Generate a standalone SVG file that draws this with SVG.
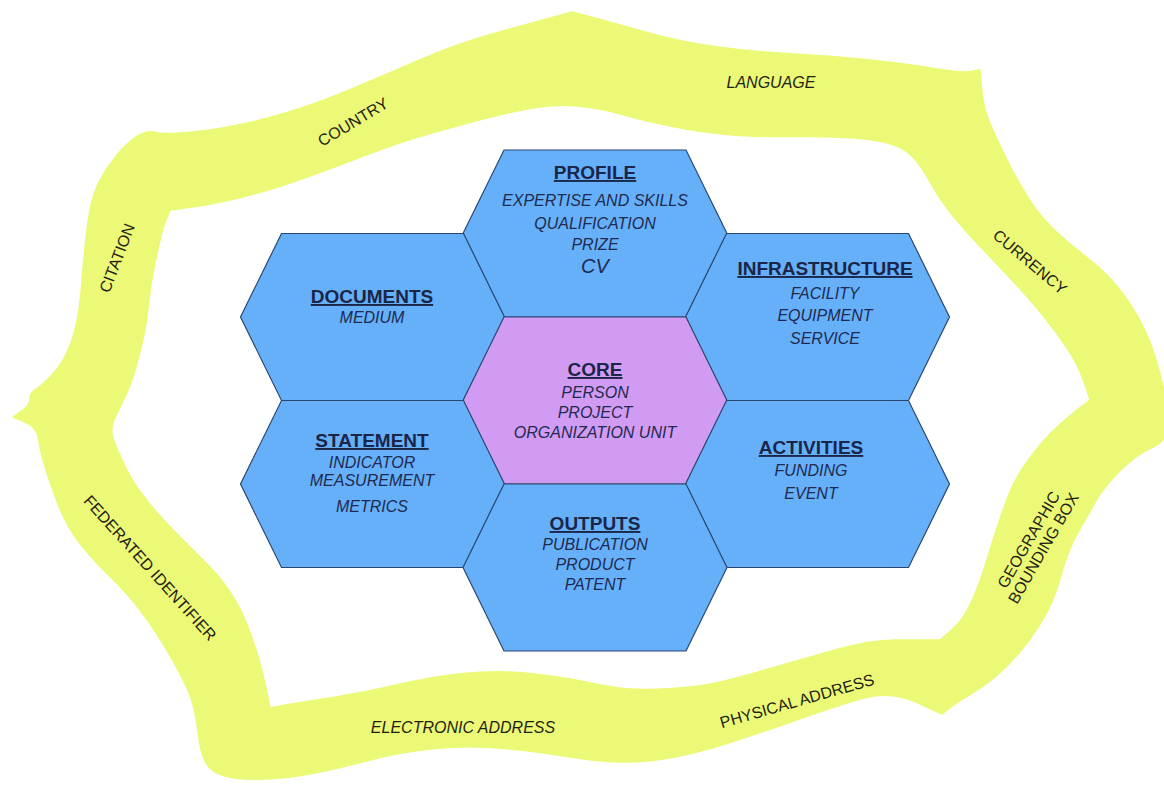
<svg xmlns="http://www.w3.org/2000/svg" width="1164" height="785" viewBox="0 0 1164 785">
<style>
.band{fill:#ECF976;stroke:#ECF976;stroke-width:1.5;stroke-linejoin:round;fill-rule:evenodd}
.hex{fill:#66B0FA;stroke:#2A4670;stroke-width:1.2}
.core{fill:#D29BF3;stroke:#2A4670;stroke-width:1.2}
.t{font-family:"Liberation Sans",Arial,sans-serif;font-weight:bold;font-size:19px;fill:#1A2548;text-anchor:middle;text-decoration:underline}
.i{font-family:"Liberation Sans",Arial,sans-serif;font-style:italic;font-size:16px;fill:#1E2A50;text-anchor:middle}
.cv{font-size:20px}
.b{font-family:"Liberation Sans",Arial,sans-serif;font-size:16px;fill:#1F1F12;text-anchor:middle}
.bi{font-style:italic}
</style>
<rect width="1164" height="785" fill="#FFFFFF"/>
<g id="band">
<path class="band" d="M137,136.5 Q147,130 156,132.5 Q165,135 197.5,131.5 Q230,128 268,118 Q306,108 344.5,92 Q383,76 421,59.5 Q459,43 497.5,32.5 Q536,22 554,17 L572,12 L591,17 Q610,22 645,32 Q680,42 717.5,47 Q755,52 793.5,54 Q832,56 870,60 Q908,64 934,68.5 Q960,73 970,71.5 L980,70 L981.5,88.5 Q983,107 990,123.5 Q997,140 1007,160 Q1017,180 1028.5,198.5 Q1040,217 1056.5,232 Q1073,247 1090,260 Q1107,273 1120,290 Q1133,307 1141.5,323.5 Q1150,340 1155,356.5 Q1160,373 1164,390 Q1168,407 1168,423.5 Q1168,440 1154,446.5 Q1140,453 1128.5,463 Q1117,473 1108.5,483 Q1100,493 1093.5,505 Q1087,517 1080,528.5 Q1073,540 1068,553.5 Q1063,567 1060,578.5 Q1057,590 1052,601.5 Q1047,613 1038.5,626.5 Q1030,640 1018.5,653.5 Q1007,667 995,677 Q983,687 971.5,693.5 Q960,700 951,707 L942,714 L916,702 Q890,690 860,699 Q830,708 795,720.5 Q760,733 730,742.5 Q700,752 675,757 Q650,762 625,762 Q600,762 570,757 Q540,752 505,748.5 Q470,745 435,748.5 Q400,752 370,760 Q340,768 315,773 Q290,778 265,779 Q240,780 225,776 Q210,772 205,761 Q200,750 198.5,735 Q197,720 193.5,706.5 Q190,693 181.5,676.5 Q173,660 163,643.5 Q153,627 140,610 Q127,593 110,576.5 Q93,560 80,543.5 Q67,527 58.5,505 Q50,483 45,466.5 Q40,450 38.5,438.5 Q37,427 25,422 L13,417 L21.5,411 Q30,405 30,399 Q30,393 35,390 Q40,387 50,377 Q60,367 66.5,353.5 Q73,340 76.5,323.5 Q80,307 81.5,287 Q83,267 85,247 Q87,227 90,210 Q93,193 100,180 Q107,167 117,155 Q127,143 137,136.5 Z M170,210 L192,207 Q214,204 242.5,197 Q271,190 303,178.5 Q335,167 367.5,154.5 Q400,142 430,133.5 Q460,125 485,118.5 Q510,112 532.5,108 Q555,104 577.5,106 Q600,108 620.5,114 Q641,120 670.5,126 Q700,132 727.5,134.5 Q755,137 792.5,136.5 Q830,136 855,138 Q880,140 894,145 Q908,150 916.5,161 Q925,172 932.5,186 Q940,200 953.5,216.5 Q967,233 983.5,250 Q1000,267 1016.5,285 Q1033,303 1045,318 Q1057,333 1067,348 Q1077,363 1082,376.5 Q1087,390 1088.5,395 L1090,400 L1081.5,406.5 Q1073,413 1061.5,423 Q1050,433 1040,445 Q1030,457 1021.5,470 Q1013,483 1008,496.5 Q1003,510 998,525 Q993,540 988,556.5 Q983,573 978,586.5 Q973,600 966.5,611.5 Q960,623 950,631.5 L940,640 L930,640 Q920,640 895,640 Q870,640 835,650 Q800,660 765,670 Q730,680 713.5,683.5 Q697,687 672,688.5 Q647,690 630,689 Q613,688 588,682.5 Q563,677 530,673.5 Q497,670 463.5,673.5 Q430,677 396.5,685 Q363,693 330,698 Q297,703 283.5,705.5 L270,708 L266.5,690.5 Q263,673 258,656.5 Q253,640 246.5,623.5 Q240,607 230,592 Q220,577 206.5,563.5 Q193,550 176.5,533.5 Q160,517 146.5,500 Q133,483 125,466.5 Q117,450 113.5,440 Q110,430 113.5,421.5 Q117,413 123.5,400 Q130,387 135,370 Q140,353 143.5,336.5 Q147,320 148.5,303.5 Q150,287 153.5,270 Q157,253 160,240 Q163,227 166.5,218.5 L170,210 Z"/>
<text class="b" transform="translate(117,258) rotate(-69)" y="5.5">CITATION</text>
<text class="b" transform="translate(353,122) rotate(-31)" y="5.5">COUNTRY</text>
<text class="b bi" x="771" y="87.5">LANGUAGE</text>
<text class="b" transform="translate(1030,262) rotate(40)" y="5.5">CURRENCY</text>
<text class="b" transform="translate(1036,544) rotate(-60)"><tspan x="0" y="-3">GEOGRAPHIC</tspan><tspan x="0" y="14">BOUNDING BOX</tspan></text>
<text class="b" transform="translate(797,701) rotate(-16)" y="5.5">PHYSICAL ADDRESS</text>
<text class="b bi" x="463" y="732.5">ELECTRONIC ADDRESS</text>
<text class="b" transform="translate(150,568) rotate(48)" y="5.5">FEDERATED IDENTIFIER</text>
</g>
<g id="profile">
<polygon class="hex" points="463,233.5 504,150 686,150 727,233.5 686,317 504,317"/>
<text class="t" x="595" y="179">PROFILE</text>
<text class="i" x="595" y="205.5">EXPERTISE AND SKILLS</text>
<text class="i" x="595" y="228.5">QUALIFICATION</text>
<text class="i" x="595" y="249.5">PRIZE</text>
<text class="i cv" x="595" y="273">CV</text>
</g>
<g id="documents">
<polygon class="hex" points="240.5,317 281.5,233.5 463.5,233.5 504.5,317 463.5,400.5 281.5,400.5"/>
<text class="t" x="372" y="303">DOCUMENTS</text>
<text class="i" x="372" y="322.5">MEDIUM</text>
</g>
<g id="infrastructure">
<polygon class="hex" points="685.5,317 726.5,233.5 908.5,233.5 949.5,317 908.5,400.5 726.5,400.5"/>
<text class="t" x="825" y="275">INFRASTRUCTURE</text>
<text class="i" x="825" y="298.5">FACILITY</text>
<text class="i" x="825" y="320.5">EQUIPMENT</text>
<text class="i" x="825" y="343.5">SERVICE</text>
</g>
<g id="core">
<polygon class="core" points="463,400.5 504,317 686,317 727,400.5 686,484 504,484"/>
<text class="t" x="595" y="376">CORE</text>
<text class="i" x="595" y="397.5">PERSON</text>
<text class="i" x="595" y="417.5">PROJECT</text>
<text class="i" x="595" y="437.5">ORGANIZATION UNIT</text>
</g>
<g id="statement">
<polygon class="hex" points="240.5,484 281.5,400.5 463.5,400.5 504.5,484 463.5,567.5 281.5,567.5"/>
<text class="t" x="372" y="447">STATEMENT</text>
<text class="i" x="372" y="467.5">INDICATOR</text>
<text class="i" x="372" y="485.5">MEASUREMENT</text>
<text class="i" x="372" y="511.5">METRICS</text>
</g>
<g id="activities">
<polygon class="hex" points="685.5,484 726.5,400.5 908.5,400.5 949.5,484 908.5,567.5 726.5,567.5"/>
<text class="t" x="811" y="454">ACTIVITIES</text>
<text class="i" x="811" y="475.5">FUNDING</text>
<text class="i" x="811" y="498.5">EVENT</text>
</g>
<g id="outputs">
<polygon class="hex" points="463,567.5 504,484 686,484 727,567.5 686,651 504,651"/>
<text class="t" x="595" y="530">OUTPUTS</text>
<text class="i" x="595" y="549.5">PUBLICATION</text>
<text class="i" x="595" y="569.5">PRODUCT</text>
<text class="i" x="595" y="589.5">PATENT</text>
</g>
<g id="connectors"></g>
</svg>
